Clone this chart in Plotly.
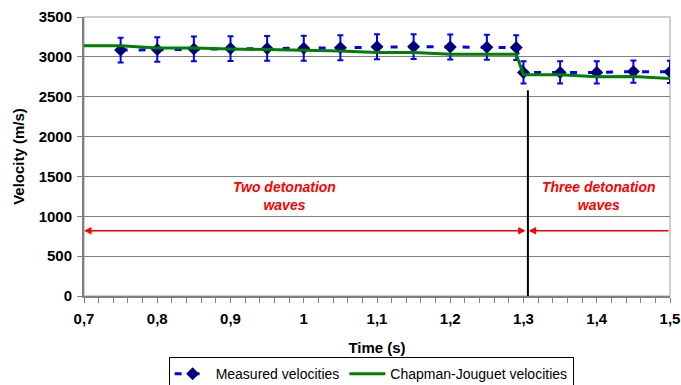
import plotly.graph_objects as go

# -------- Data --------
measured_time = [0.75, 0.80, 0.85, 0.90, 0.95, 1.00, 1.05, 1.10, 1.15, 1.20, 1.25, 1.29,
                 1.30, 1.35, 1.40, 1.45, 1.50]
measured_vel = [3085, 3092, 3100, 3104, 3105, 3108, 3114, 3126, 3128, 3124, 3120, 3116,
                2805, 2805, 2805, 2815, 2812]
measured_err_pct = 5

cj_time = [0.70, 0.75, 0.80, 0.85, 0.90, 0.95, 1.00, 1.05, 1.10, 1.15, 1.20, 1.25, 1.29,
           1.30, 1.35, 1.40, 1.45, 1.50]
cj_vel = [3140, 3140, 3112, 3112, 3100, 3091, 3075, 3073, 3054, 3054, 3033, 3033, 3033,
          2776, 2776, 2751, 2755, 2730]

x_tickvals = [0.7, 0.8, 0.9, 1.0, 1.1, 1.2, 1.3, 1.4, 1.5]
x_ticktext = ["0,7", "0,8", "0,9", "1", "1,1", "1,2", "1,3", "1,4", "1,5"]

transition_time = 1.306
transition_top = 2580
arrow_level = 820
region_labels = ["Two detonation<br>waves", "Three detonation<br>waves"]
region_label_x = [0.974, 1.403]
region_label_y = 1255

FONT = "Liberation Sans, Arial, sans-serif"
RED = "#ff0000"

# -------- Figure --------
fig = go.Figure()

fig.add_trace(go.Scatter(
    x=measured_time, y=measured_vel, name="Measured velocities",
    mode="lines+markers",
    line=dict(color="#0000ff", width=3, dash="7px,11px"),
    marker=dict(symbol="diamond", size=10, color="#000080"),
    error_y=dict(type="percent", value=measured_err_pct, color="#0000ff",
                 thickness=2, width=3),
))

fig.add_trace(go.Scatter(
    x=cj_time, y=cj_vel, name="Chapman-Jouguet velocities",
    mode="lines", line=dict(color="#008000", width=3),
))

# vertical transition line
fig.add_shape(type="line", x0=transition_time, x1=transition_time, y0=0, y1=transition_top,
              xref="x", yref="y", line=dict(color="black", width=2))

# light frame on top / right of plot area
fig.add_shape(type="rect", x0=0, x1=1, y0=0, y1=1, xref="paper", yref="paper",
              line=dict(color="#c0c0c0", width=1.5), layer="below")

# arrows
fig.add_annotation(x=0.7, y=arrow_level, ax=transition_time - 0.001, ay=arrow_level,
                   xref="x", yref="y", axref="x", ayref="y", text="",
                   showarrow=True, arrowhead=2, arrowsize=1, arrowwidth=1.5,
                   arrowside="end+start", arrowcolor=RED)
fig.add_annotation(x=transition_time + 0.001, y=arrow_level, ax=1.5, ay=arrow_level,
                   xref="x", yref="y", axref="x", ayref="y", text="",
                   showarrow=True, arrowhead=2, arrowsize=1, arrowwidth=1.5,
                   arrowcolor=RED)

for label, lx in zip(region_labels, region_label_x):
    fig.add_annotation(x=lx, y=region_label_y, xref="x", yref="y", showarrow=False,
                       text=f"<b><i>{label}</i></b>",
                       font=dict(family=FONT, size=14, color=RED))

fig.update_layout(
    width=681, height=385,
    margin=dict(l=84, r=11, t=17, b=89, autoexpand=False),
    paper_bgcolor="white", plot_bgcolor="white",
    font=dict(family=FONT, color="black"),
    showlegend=True,
    legend=dict(orientation="h", x=0.49, xanchor="center", y=-0.219, yanchor="top",
                bordercolor="black", borderwidth=1, font=dict(size=14),
                itemwidth=36, tracegroupgap=0),
)

fig.update_xaxes(
    range=[0.7, 1.5], tickvals=x_tickvals, ticktext=x_ticktext,
    showgrid=False, zeroline=False, automargin=False,
    showline=True, linecolor="#808080", linewidth=2,
    ticks="outside", ticklen=5, tickcolor="#808080",
    minor=dict(dtick=0.02, tick0=0.7, ticks="outside", ticklen=5, tickcolor="#808080"),
    tickfont=dict(size=15, weight="bold"), ticklabelstandoff=3,
    title=dict(text="<b>Time (s)</b>", font=dict(size=15), standoff=16),
)

fig.update_yaxes(
    range=[0, 3500], dtick=500, tickformat="d",
    showgrid=True, gridcolor="#808080", gridwidth=1, zeroline=False, automargin=False,
    showline=True, linecolor="#808080", linewidth=2,
    ticks="outside", ticklen=5, tickcolor="#808080",
    tickfont=dict(size=15, weight="bold"), ticklabelstandoff=2,
    title=dict(text="<b>Velocity (m/s)</b>", font=dict(size=15), standoff=10),
)

# drop the page's default body margin so the figure sits at the window origin
fig.write_html("out.html", config={"displayModeBar": False},
               post_script="document.body.style.margin='0';document.body.style.overflow='hidden';")
